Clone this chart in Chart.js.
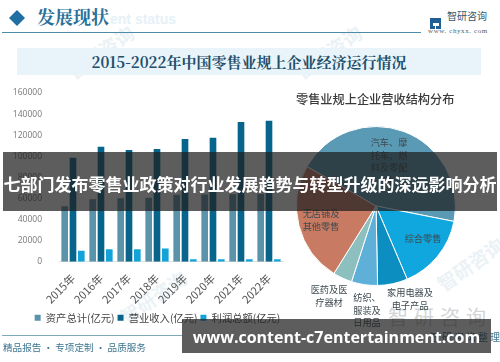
<!DOCTYPE html>
<html>
<head>
<meta charset="utf-8">
<script src="https://cdn.jsdelivr.net/npm/chart.js@4"></script>
<style>
html, body { margin: 0; padding: 0; background: #fff; }
#page { position: relative; width: 500px; height: 362px; overflow: hidden; background: #fff; font-family: "Noto Sans CJK SC", sans-serif; }
#page canvas { position: absolute; top: 0; }
.txt { position: absolute; white-space: nowrap; }
.pie-label { position: absolute; text-align: center; font-size: 9.2px; line-height: 12.5px; color: #3d4a50; transform: translateX(-50%); white-space: nowrap; }
.mark { position: absolute; white-space: nowrap; color: #ebf2f6; font-weight: bold; transform: rotate(-35deg); }
.banner { position: absolute; background: rgba(30,30,30,0.72); color: #fff; font-weight: bold; text-align: center; white-space: nowrap; }
</style>
</head>
<body>
<div id="page">
    <!-- faint watermarks -->
    <div class="mark" style="left:62px;top:38px;font-size:19px;">智研咨询</div>
    <div class="mark" style="left:290px;top:38px;font-size:19px;">智研咨询</div>
    <div class="mark" style="left:115px;top:283px;font-size:19px;">智研咨询</div>
    <div class="mark" style="left:432px;top:250px;font-size:19px;">智研咨询</div>
    <div class="txt" style="left:388px;top:302px;font-size:20px;letter-spacing:6px;color:#d2d5d7;">智研咨询</div>

    <!-- header -->
    <div class="txt" style="left:8px;top:8px;width:18px;height:18px;"><svg width="18" height="18"><path d="M9 1 L17 9 L9 17 L1 9 Z" fill="#1f6fa3"/></svg></div>
    <div class="txt" style="left:110px;top:11px;font:bold 14px 'Liberation Sans';color:#e6f1f7;">ent status</div>
    <div class="txt" style="left:37px;top:2px;font:bold 18px/28px 'Noto Serif CJK SC','Noto Sans CJK SC';color:#2a7098;">发展现状</div>
    <div style="position:absolute;left:2px;top:32px;width:419px;height:1px;background:#4f8aa8;"></div>
    <div class="txt" style="left:430px;top:10px;width:11px;height:11px;"><svg width="11" height="11"><path d="M0 0H11V11H6V8H9V5H3V8H5V11H0Z" fill="#1f5f96"/></svg></div>
    <div class="txt" style="left:447px;top:9px;font-size:10px;line-height:14px;color:#33556b;">智研咨询</div>
    <div class="txt" style="left:428px;top:27px;font:7px/9px 'Liberation Serif';letter-spacing:0.6px;color:#4a5f6c;">www. chyxx. com</div>
    <div style="position:absolute;left:17px;top:48px;width:464px;height:27px;background:#e9f4fa;"></div>
    <div class="txt" style="left:17px;top:48px;width:464px;text-align:center;font:bold 15px/27px 'Noto Serif CJK SC','Noto Sans CJK SC';color:#234f6b;">2015-2022年中国零售业规上企业经济运行情况</div>

    <canvas id="bar-chart"></canvas>
    <canvas id="pie-chart"></canvas>

    <div class="txt" style="left:296px;top:91px;font-size:12.2px;line-height:16px;font-weight:500;color:#3a3a3a;">零售业规上企业营收结构分布</div>
    <div class="pie-label" style="left:389px;top:136px;">汽车、摩<br>托车、燃<br>料及零配<br>件</div>
    <div class="pie-label" style="left:321px;top:207px;">无店铺及<br>其他零售</div>
    <div class="pie-label" style="left:423px;top:232px;">综合零售</div>
    <div class="pie-label" style="left:329px;top:283px;">医药及医<br>疗器材</div>
    <div class="pie-label" style="left:367px;top:291px;">纺织、<br>服装及<br>日用品</div>
    <div class="pie-label" style="left:410px;top:286px;">家用电器及<br>电子产品</div>

    <!-- footer -->
    <div style="position:absolute;left:2px;top:335px;width:180px;height:1px;background:#7fa9bd;"></div>
    <div class="txt" style="left:3px;top:340px;font-size:9.6px;line-height:15px;color:#3f7690;">精品报告 · 专项定制 · 品质服务</div>
    <div class="txt" style="left:430px;top:330px;font-size:10px;line-height:14px;letter-spacing:2px;color:#3f7690;">智研咨询整理</div>

    <!-- overlay banners -->
    <div class="banner" style="left:3px;top:152px;width:494px;height:59px;font-size:17px;line-height:63px;">七部门发布零售业政策对行业发展趋势与转型升级的深远影响分析</div>
    <div class="banner" style="left:182px;top:319px;width:309px;height:34px;font:bold 16px/36px 'Open Sans';">www.content-c7entertainment.com</div>
</div>
<script>
// Bar chart data
const years = ['2015年', '2016年', '2017年', '2018年', '2019年', '2020年', '2021年', '2022年'];
const assets = [52700, 59300, 60200, 60700, 63600, 63800, 64000, 64500];
const revenue = [98500, 109000, 106000, 107000, 116400, 117600, 132400, 133600];
const profit = [10400, 11800, 11800, 12500, 2300, 2300, 2300, 2400];
const yTicks = [0, 20000, 40000, 60000, 80000, 100000, 120000, 140000, 160000];

// Pie chart data (angle shares, in percent)
const sectors = ['汽车、摩托车、燃料及零配件', '综合零售', '家用电器及电子产品', '纺织、服装及日用品', '医药及医疗器材', '无店铺及其他零售'];
const shares = [44.9, 15.5, 6.1, 5.3, 3.9, 24.4];

const barCanvas = document.getElementById('bar-chart');
barCanvas.style.left = '0px';
barCanvas.width = 314;
barCanvas.height = 333;

// The legend is centred on the canvas minus padding, nudge it right under the plot
const legendShift = {
    id: 'legendShift',
    afterLayout(chart) {
        chart.legend.left += 16;
        chart.legend.right += 16;
    }
};

new Chart(barCanvas.getContext('2d'), {
    type: 'bar',
    data: {
        labels: years,
        datasets: [
            { label: '资产总计(亿元)', data: assets, backgroundColor: '#5b93aa' },
            { label: '营业收入(亿元)', data: revenue, backgroundColor: '#07658c' },
            { label: '利润总额(亿元)', data: profit, backgroundColor: '#14a3d8' }
        ]
    },
    plugins: [legendShift],
    options: {
        responsive: false,
        animation: false,
        layout: { padding: { top: 93, right: 31, bottom: 0, left: 0 } },
        datasets: { bar: { categoryPercentage: 0.89, barPercentage: 0.8 } },
        plugins: {
            tooltip: { enabled: false },
            legend: {
                position: 'bottom',
                labels: {
                    boxWidth: 6,
                    boxHeight: 6,
                    padding: 3,
                    color: '#444',
                    font: { family: '"Noto Sans CJK SC"', size: 10.3 }
                }
            }
        },
        scales: {
            x: {
                grid: { display: false },
                border: { color: '#e0e0e0' },
                afterFit: (axis) => { axis.height = 48; },
                ticks: {
                    minRotation: 45,
                    maxRotation: 45,
                    padding: 2,
                    color: '#555',
                    font: { family: '"Noto Sans CJK SC"', size: 11 }
                }
            },
            y: {
                min: 0,
                max: 160000,
                afterBuildTicks: (axis) => { axis.ticks = yTicks.map(v => ({ value: v })); },
                afterFit: (axis) => { axis.width = 59; },
                grid: { display: false },
                border: { display: false },
                ticks: {
                    padding: 9,
                    color: '#777',
                    font: { family: '"Open Sans"', size: 8.5 },
                    callback: (value) => String(value)
                }
            }
        }
    }
});

const pieCanvas = document.getElementById('pie-chart');
pieCanvas.style.left = '290px';
pieCanvas.width = 174;
pieCanvas.height = 300;

new Chart(pieCanvas.getContext('2d'), {
    type: 'pie',
    data: {
        labels: sectors,
        datasets: [{
            data: shares,
            rotation: -60.3,
            backgroundColor: ['#5b9ab5', '#10a6de', '#0c8fc0', '#5eb0d9', '#8dbfbf', '#c87a62'],
            borderColor: '#fff',
            borderWidth: 1
        }]
    },
    options: {
        responsive: false,
        animation: false,
        layout: { padding: { top: 126, left: 6, right: 8, bottom: 14 } },
        plugins: {
            legend: { display: false },
            tooltip: { enabled: false }
        }
    }
});
</script>
</body>
</html>
